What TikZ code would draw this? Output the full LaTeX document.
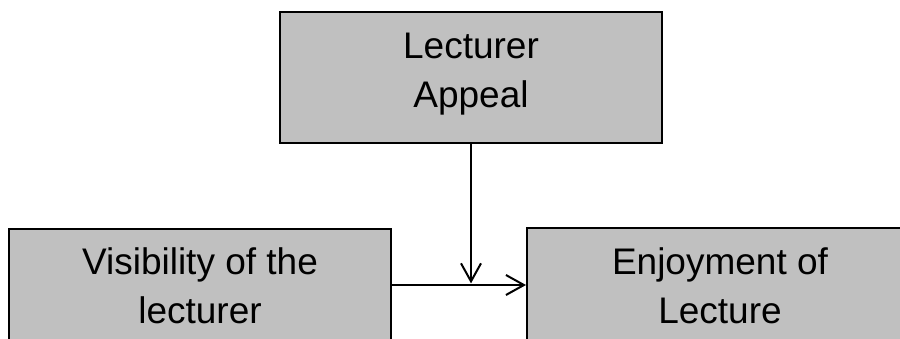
\documentclass[tikz,border=0pt]{standalone}
\usepackage{fontspec}
\setmainfont{Liberation Sans}
\usetikzlibrary{arrows.meta}
\definecolor{boxgray}{HTML}{C0C0C0}
\begin{document}
\begin{tikzpicture}[x=0.5pt,y=-0.5pt,
  box/.style={draw=black, line width=1pt, fill=boxgray, rectangle, inner sep=0pt},
  lbl/.style={align=center, font=\fontsize{18.5pt}{24.75pt}\selectfont, inner sep=0pt, anchor=base},
  arr/.style={draw=black, line width=1pt, -{Straight Barb[length=9pt,width=10pt]}}]
\useasboundingbox (0,0) rectangle (900,338);
\node[box, minimum width=191pt, minimum height=65.5pt] (appeal) at (471,77.5) {};
\node[lbl] (appealtext) at (471,107.5) {Lecturer\\Appeal};
\node[box, minimum width=191pt, minimum height=65.5pt] (vis) at (200,294.5) {};
\node[lbl] (vistext) at (200,323.5) {Visibility of the\\lecturer};
\node[box, minimum width=193pt, minimum height=65.5pt] (enjoy) at (720,293.5) {};
\node[lbl] (enjoytext) at (720,323.5) {Enjoyment of\\Lecture};
\coordinate (j) at (471,285);
\draw[arr] (vis.east |- j) -- (enjoy.west |- j);
\draw[arr, shorten >=0.8pt] (appeal.south) -- (j);
\end{tikzpicture}
\end{document}
